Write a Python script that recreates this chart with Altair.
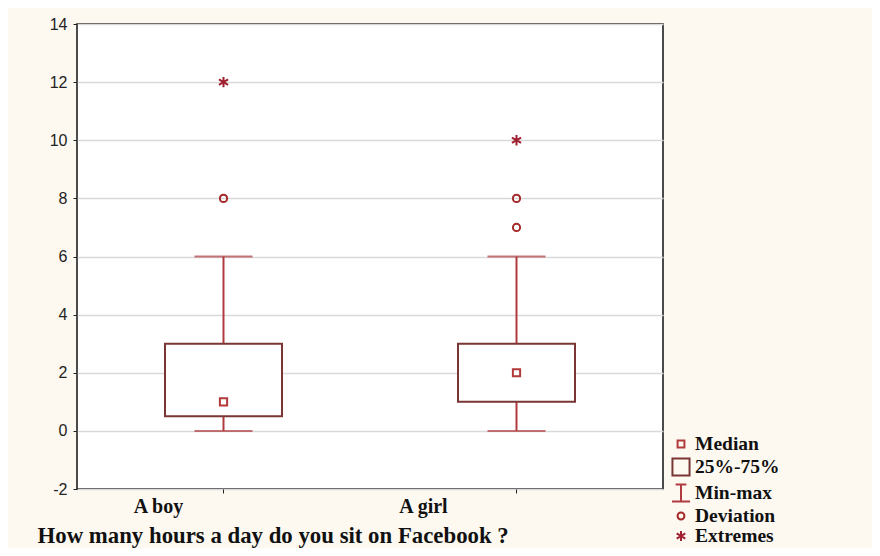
import altair as alt
import pandas as pd

categories = ["A boy", "A girl"]
q1 = [0.5, 1.0]
q3 = [3.0, 3.0]
medians = [1.0, 2.0]
mins = [0.0, 0.0]
maxs = [6.0, 6.0]

dev_cat = ["A boy", "A girl", "A girl"]
dev_val = [8.0, 7.0, 8.0]
ext_cat = ["A boy", "A girl"]
ext_val = [12.0, 10.0]

legend_items = ["Median", "25%-75%", "Min-max", "Deviation", "Extremes"]

box_df = pd.DataFrame({"cat": categories, "q1": q1, "q3": q3, "med": medians,
                       "lo": mins, "hi": maxs})
pts_df = pd.DataFrame({
    "cat": categories + dev_cat + ext_cat,
    "value": medians + dev_val + ext_val,
    "kind": ["Median"] * len(medians) + ["Deviation"] * len(dev_val) + ["Extremes"] * len(ext_val),
})

SERIF = "Liberation Serif"
WHISK = "#b03a3f"
BOXC = "#7a3535"

xenc = alt.X("cat:N", scale=alt.Scale(domain=categories, paddingInner=0, paddingOuter=0),
             axis=alt.Axis(labels=False, ticks=True, tickSize=4, tickColor="#222",
                           domain=False, grid=False,
                           title="How many hours a day do you sit on Facebook ?",
                           titleFont=SERIF, titleFontSize=22.8, titleFontWeight="bold",
                           titleColor="#111", titleAnchor="start", titleAlign="left",
                           titleBaseline="middle", titleX=-40, titleY=46))
yscale = alt.Scale(domain=[-2, 14], nice=False, zero=False)
yaxis = alt.Axis(values=list(range(-2, 15, 2)), labelFont="Liberation Sans", labelFontSize=16,
                 labelColor="#222", tickSize=4, tickColor="#222", domain=False,
                 gridColor="#d9d9d9", gridWidth=1.5, labelPadding=6, title=None,
                 labelExpr="datum.value < 0 ? '-' + abs(datum.value) : '' + datum.value")

base = alt.Chart(box_df)

whisk = base.mark_rule(color=WHISK, strokeWidth=2).encode(
    x=xenc, y=alt.Y("lo:Q", scale=yscale, axis=yaxis), y2="hi:Q")
box = base.mark_bar(size=117, fill="white", stroke=BOXC, strokeWidth=2).encode(
    x="cat:N", y="q1:Q", y2="q3:Q")
cap_hi = base.mark_tick(size=58, thickness=2, color=WHISK).encode(x="cat:N", y="hi:Q")
cap_lo = base.mark_tick(size=58, thickness=2, color=WHISK).encode(x="cat:N", y="lo:Q")

shapes = [
    "M-0.38,-0.38H0.38V0.38H-0.38Z",
    "M-0.95,-0.95H0.95V0.95H-0.95Z",
    "M-0.6,-0.95H0.6M0,-0.95V0.95M-1,0.95H1",
    "M-0.38,0A0.38,0.38 0 1,0 0.38,0A0.38,0.38 0 1,0 -0.38,0",
    "M0,-0.55V0.55M-0.48,-0.28L0.48,0.28M-0.48,0.28L0.48,-0.28",
]
colors = ["#b33a3a", BOXC, WHISK, "#a52a2a", "#a02030"]

points = alt.Chart(pts_df).mark_point(filled=False, size=361, strokeWidth=2, opacity=1).encode(
    x="cat:N", y="value:Q",
    shape=alt.Shape("kind:N", scale=alt.Scale(domain=legend_items, range=shapes), title=None,
                    legend=alt.Legend(orient="none", legendX=594, legendY=410, padding=0,
                                      symbolSize=324, symbolStrokeWidth=2,
                                      symbolFillColor="transparent",
                                      labelFont=SERIF, labelFontSize=19.5, labelFontWeight="bold",
                                      labelColor="#111", labelOffset=4, rowPadding=0,
                                      labelLimit=200)),
    color=alt.Color("kind:N", scale=alt.Scale(domain=legend_items, range=colors), title=None),
)

lab_boy = alt.Chart(box_df).transform_filter(alt.datum.cat == "A boy").mark_text(
    font=SERIF, fontSize=20, fontWeight="bold", color="#111", dx=-65, dy=18, baseline="middle"
).encode(x="cat:N", y=alt.datum(-2), text="cat:N")
lab_girl = alt.Chart(box_df).transform_filter(alt.datum.cat == "A girl").mark_text(
    font=SERIF, fontSize=20, fontWeight="bold", color="#111", dx=-93, dy=18, baseline="middle"
).encode(x="cat:N", y=alt.datum(-2), text="cat:N")

chart = alt.layer(whisk, box, cap_hi, cap_lo, points, lab_boy, lab_girl).properties(
    width=586, height=465,
    autosize=alt.AutoSizeParams(type="none"),
    padding={"left": 69, "top": 16, "right": 209, "bottom": 59},
    background="#fdf9f1",
).configure_view(stroke="#111", strokeWidth=1.5, fill="white")

chart.save("out.html", embed_options={"renderer": "svg", "actions": False})
